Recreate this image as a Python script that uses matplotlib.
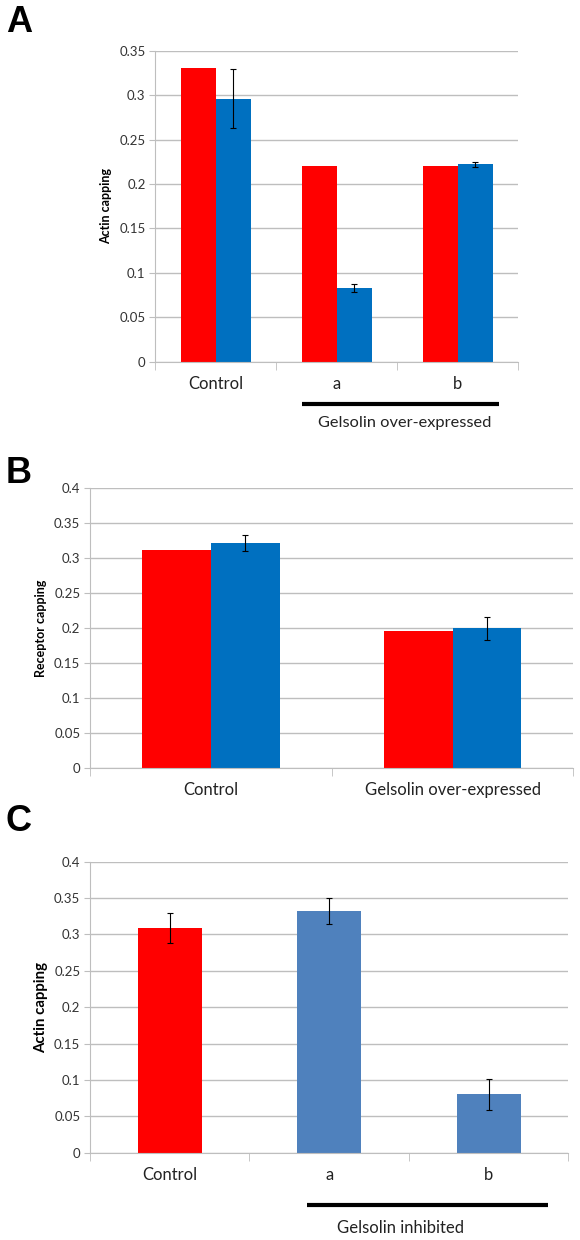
import matplotlib as mpl
mpl.use('Agg')
from matplotlib import pyplot as plt
import numpy as np

# panel A
a_cats = ['Control', 'a', 'b']
a_red = [0.33, 0.22, 0.22]
a_blue = [0.296, 0.083, 0.222]
a_blue_err = [0.033, 0.005, 0.003]

# panel B
b_cats = ['Control', 'Gelsolin over-expressed']
b_red = [0.312, 0.196]
b_blue = [0.322, 0.200]
b_blue_err = [0.012, 0.016]

# panel C
c_cats = ['Control', 'a', 'b']
c_vals = [0.309, 0.332, 0.080]
c_err = [0.021, 0.018, 0.021]

RED = '#FF0000'
BLUE = '#0070C0'
BLUE_C = '#4F81BD'
GRID = '#BEBEBE'

plt.rcParams['font.family'] = ['Lato', 'DejaVu Sans']

ERR = dict(ecolor='black', elinewidth=0.8, capsize=2.5, capthick=0.8)


def style_axes(ax, ymax, step, ncat):
    ax.set_ylim(0, ymax)
    ax.set_xlim(-0.5, ncat - 0.5)
    ticks = np.arange(0, ymax + step / 2, step)
    ax.set_yticks(ticks)
    ax.set_yticklabels(['%g' % round(t, 2) for t in ticks])
    ax.yaxis.grid(True, color=GRID, linewidth=1)
    ax.set_axisbelow(True)
    for s in ['top', 'right']:
        ax.spines[s].set_visible(False)
    ax.spines['left'].set_color(GRID)
    ax.spines['bottom'].set_color(GRID)
    ax.tick_params(axis='y', length=4, color=GRID, labelsize=9.5, labelcolor='#333333', pad=3)
    ax.tick_params(axis='x', which='major', length=0, labelsize=12, labelcolor='#222222', pad=10)
    ax.set_xticks(np.arange(-0.5, ncat, 1.0), minor=True)
    ax.tick_params(axis='x', which='minor', length=6, color=GRID, direction='out')


def panel_letter(y, s):
    fig.text(0.010, y, s, fontsize=26, fontweight='bold', ha='left', va='center',
             family=['Liberation Sans', 'DejaVu Sans'])


fig = plt.figure(figsize=(5.8, 12.4), dpi=100)

# ---- A ----
ax1 = fig.add_axes([0.2678, 0.7083, 0.6259, 0.2508])
x = np.arange(len(a_cats))
w = 0.29
ax1.bar(x - w / 2, a_red, w, color=RED)
ax1.bar(x + w / 2, a_blue, w, color=BLUE, yerr=a_blue_err, error_kw=ERR)
style_axes(ax1, 0.35, 0.05, 3)
ax1.set_xticks(x)
ax1.set_xticklabels(a_cats)
ax1.set_ylabel('Actin capping', fontsize=9, fontweight='bold')
ax1.yaxis.set_label_coords(-0.12, 0.5)
ax1.plot([0.71, 2.34], [-0.136, -0.136], color='black', linewidth=3,
         transform=ax1.get_xaxis_transform(), clip_on=False, solid_capstyle='butt')
ax1.text(1.564, -0.197, 'Gelsolin over-expressed', transform=ax1.get_xaxis_transform(),
         ha='center', va='center', fontsize=11.8, color='#222222')
panel_letter(0.9815, 'A')

# ---- B ----
ax2 = fig.add_axes([0.1552, 0.3804, 0.8333, 0.2258])
x = np.arange(len(b_cats))
w = 0.285
ax2.bar(x - w / 2, b_red, w, color=RED)
ax2.bar(x + w / 2, b_blue, w, color=BLUE, yerr=b_blue_err, error_kw=ERR)
style_axes(ax2, 0.4, 0.05, 2)
ax2.set_xticks(x)
ax2.set_xticklabels(b_cats)
ax2.set_ylabel('Receptor capping', fontsize=9, fontweight='bold')
ax2.yaxis.set_label_coords(-0.09, 0.5)
panel_letter(0.6185, 'B')

# ---- C ----
ax3 = fig.add_axes([0.1552, 0.0704, 0.8247, 0.2347])
x = np.arange(len(c_cats))
ax3.bar(x, c_vals, 0.4, color=[RED, BLUE_C, BLUE_C], yerr=c_err, error_kw=ERR)
style_axes(ax3, 0.4, 0.05, 3)
ax3.set_xticks(x)
ax3.set_xticklabels(c_cats)
ax3.set_ylabel('Actin capping', fontsize=10.8, fontweight='bold')
ax3.yaxis.set_label_coords(-0.088, 0.5)
ax3.plot([0.863, 2.375], [-0.18, -0.18], color='black', linewidth=3,
         transform=ax3.get_xaxis_transform(), clip_on=False, solid_capstyle='butt')
ax3.text(1.45, -0.258, 'Gelsolin inhibited', transform=ax3.get_xaxis_transform(),
         ha='center', va='center', fontsize=12, color='#222222')
panel_letter(0.3373, 'C')

fig.savefig('out.png', dpi=100, facecolor='white')
